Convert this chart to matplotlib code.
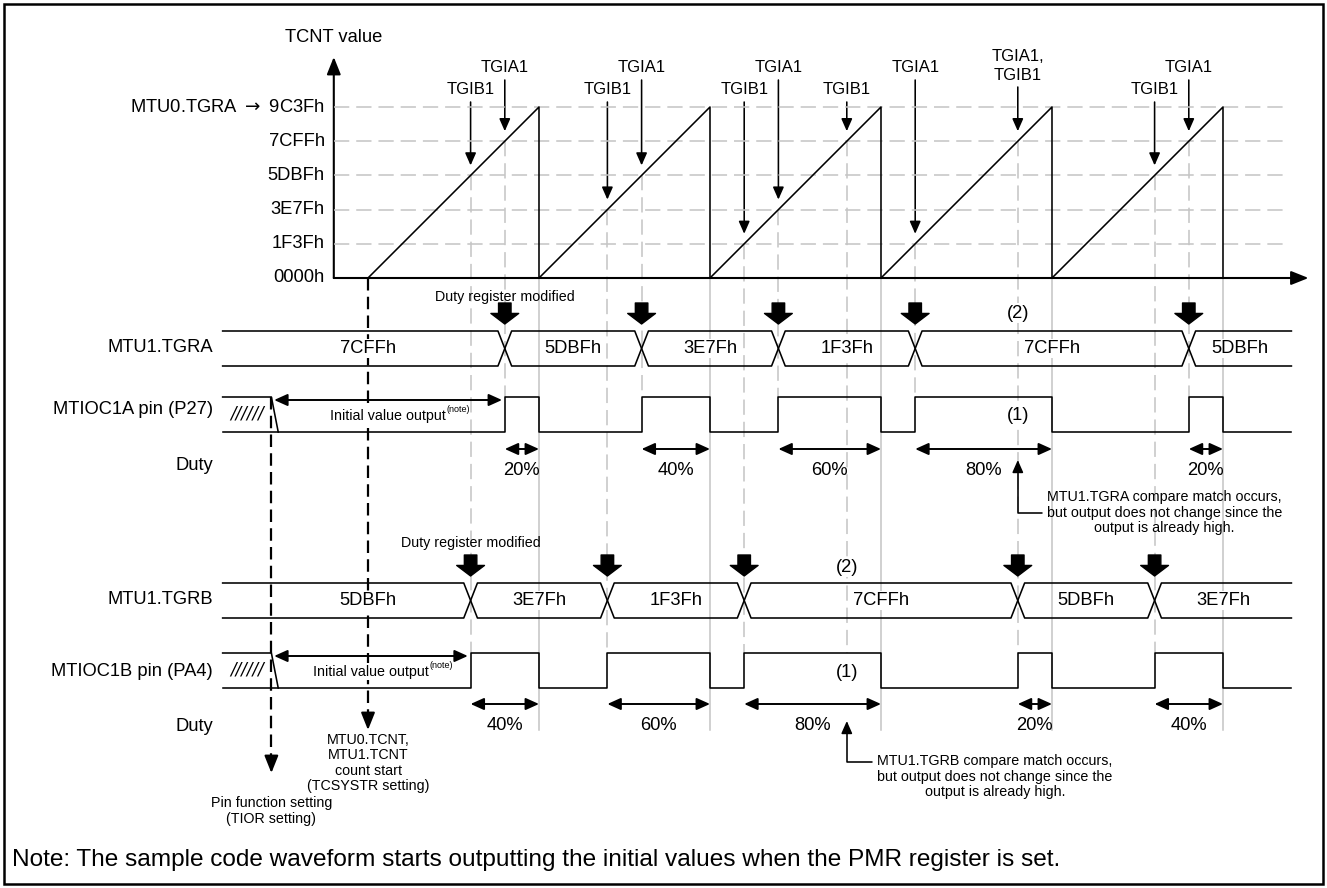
import matplotlib
matplotlib.use("Agg")
import matplotlib.pyplot as plt
from matplotlib.patches import Rectangle

plt.rcParams["font.family"] = ["Liberation Sans", "DejaVu Sans"]
plt.rcParams["lines.scale_dashes"] = False

# ---------------- data ----------------
TGRA0 = 0x9C3F                      # MTU0.TGRA (counter period)
N_PERIODS = 5
tick_values = [0x0000, 0x1F3F, 0x3E7F, 0x5DBF, 0x7CFF, 0x9C3F]
tick_labels = ["0000h", "1F3Fh", "3E7Fh", "5DBFh", "7CFFh", "MTU0.TGRA $\\rightarrow$ 9C3Fh"]

# compare-match events: (period index, compare value)
tgia1_period = [0, 1, 2, 3, 3, 4]
tgia1_value = [0x7CFF, 0x5DBF, 0x3E7F, 0x1F3F, 0x7CFF, 0x7CFF]
tgib1_period = [0, 1, 2, 2, 3, 4]
tgib1_value = [0x5DBF, 0x3E7F, 0x1F3F, 0x7CFF, 0x7CFF, 0x5DBF]

# register contents and the events at which they are rewritten
tgra_labels = ["7CFFh", "5DBFh", "3E7Fh", "1F3Fh", "7CFFh", "5DBFh"]
tgra_write_idx = [0, 1, 2, 3, 5]
tgrb_labels = ["5DBFh", "3E7Fh", "1F3Fh", "7CFFh", "5DBFh", "3E7Fh"]
tgrb_write_idx = [0, 1, 2, 4, 5]

reg_names = ["MTU1.TGRA", "MTU1.TGRB"]
pin_names = ["MTIOC1A pin (P27)", "MTIOC1B pin (PA4)"]
irq_names = ["TGIA1", "TGIB1"]
note_text = "Note: The sample code waveform starts outputting the initial values when the PMR register is set."
nochange_text = ["MTU1.TGRA compare match occurs,\nbut output does not change since the\noutput is already high.",
                 "MTU1.TGRB compare match occurs,\nbut output does not change since the\noutput is already high."]

# ---------------- layout ----------------
W, H = 1327, 888
X0_PX, Y0_PX, PX_PER_PERIOD = 368, 278, 171
PERIOD = TGRA0 + 1
CPP = PERIOD / PX_PER_PERIOD

AXIS_T = -0.2 * PERIOD
XAXIS_END_T = 5.5 * PERIOD
GRID_END_T = 5.36 * PERIOD
ROW_START_T = -0.85 * PERIOD
ROW_END_T = 5.4 * PERIOD
PIN_SET_T = -0.565 * PERIOD
PIN_DIAG_T = -0.525 * PERIOD
XHALF = 0.04 * PERIOD
GUIDE_BOTTOM = 730

rows = [
    dict(bus_top=331, bus_bot=366, hi=397, lo=432, duty_arrow=449, duty_text=470,
         lab_bus=348, lab_pin=409, lab_duty=465, mod_text=297, p2=313, p1=415, tip=460,
         note_off=(21, -38), relpos=(0, 0.5)),
    dict(bus_top=583, bus_bot=618, hi=653, lo=688, duty_arrow=704, duty_text=725,
         lab_bus=600, lab_pin=671, lab_duty=726, mod_text=543, p2=567, p1=672, tip=721,
         note_off=(22, -40), relpos=(0, 0.83)),
]

FS = 13.2
FS_IRQ = 12
FS_S = 10.3
BLACK = "black"
GREY = "#c4c4c4"
LW = 1.15

fig = plt.figure(figsize=(W / 100, H / 100), dpi=100)
ax = fig.add_axes([0, 0, 1, 1], label="rows")
ax.set_axis_off()
ax.set_xlim(-X0_PX * CPP, (W - X0_PX) * CPP)
ax.set_ylim(H, 0)
axc = fig.add_axes([0, 0, 1, 1], label="chart")
axc.set_axis_off()
axc.patch.set_alpha(0)
axc.set_xlim(-X0_PX * CPP, (W - X0_PX) * CPP)
axc.set_ylim(-(H - Y0_PX) * CPP, Y0_PX * CPP)


def to_px(t, v):
    d = axc.transData.transform((t, v))
    return ax.transData.inverted().transform(d)[1]


ARW = dict(arrowstyle="-|>,head_length=0.75,head_width=0.33", mutation_scale=10,
           color=BLACK, lw=LW, shrinkA=0, shrinkB=0)
DARW = dict(arrowstyle="<|-|>,head_length=0.8,head_width=0.36", mutation_scale=10,
            color=BLACK, lw=1.4, shrinkA=0, shrinkB=0)
AXARW = dict(arrowstyle="-|>,head_length=1.05,head_width=0.42", mutation_scale=10,
             color=BLACK, lw=1.5, shrinkA=0, shrinkB=0)
BIG = dict(arrowstyle="simple,head_length=0.38,head_width=1.0,tail_width=0.45",
           mutation_scale=20, color=BLACK, shrinkA=0, shrinkB=0)
WBOX = dict(fc="white", ec="none", pad=1.0)

# ---------------- border ----------------
fig.add_artist(Rectangle((4 / W, 4 / H), (W - 8) / W, (H - 8) / H, transform=fig.transFigure,
                         fill=False, ec=BLACK, lw=1.8))

# ---------------- TCNT chart ----------------
for v in tick_values[1:]:
    axc.plot([AXIS_T, GRID_END_T], [v, v], color=GREY, lw=1.1, ls=(0, (11, 5)), zorder=1)
for v, lbl in zip(tick_values, tick_labels):
    axc.annotate(lbl, xy=(AXIS_T, v), xytext=(-6.5, 0), textcoords="offset points",
                 ha="right", va="center", fontsize=FS)
for k in range(N_PERIODS):
    ts = k * PERIOD
    axc.plot([ts, ts + TGRA0, ts + TGRA0], [0, TGRA0, 0], color=BLACK, lw=LW, zorder=3)
ax.annotate("", xy=(AXIS_T, 57), xytext=(AXIS_T, Y0_PX), arrowprops=AXARW, zorder=4)
ax.annotate("", xy=(XAXIS_END_T, Y0_PX), xytext=(AXIS_T, Y0_PX), arrowprops=AXARW, zorder=4)
ax.text(AXIS_T, 37, "TCNT value", ha="center", va="center", fontsize=FS)

# events
ev = {}
for ch, (pers, vals) in enumerate([(tgia1_period, tgia1_value), (tgib1_period, tgib1_value)]):
    for k, v in zip(pers, vals):
        t = k * PERIOD + v
        ev.setdefault(t, [v, set()])[1].add(ch)
ev_a = [k * PERIOD + v for k, v in zip(tgia1_period, tgia1_value)]
ev_b = [k * PERIOD + v for k, v in zip(tgib1_period, tgib1_value)]

for t, (v, chs) in sorted(ev.items()):
    ycross = to_px(t, v)
    if chs == {0, 1}:
        lbl, ly, tail = irq_names[0] + ",\n" + irq_names[1], 66, 87
    elif chs == {0}:
        lbl, ly, tail = irq_names[0], 67, 80
    else:
        lbl, ly, tail = irq_names[1], 89, 102
    ax.text(t, ly, lbl, ha="center", va="center", fontsize=FS_IRQ, linespacing=1.4)
    ax.annotate("", xy=(t, ycross - 10), xytext=(t, tail), arrowprops=ARW, zorder=4)
    ybot = max(rows[c]["hi"] for c in chs)
    ax.plot([t, t], [ycross, ybot], color=GREY, lw=1.1, ls=(0, (11, 5)), zorder=1)

for k in range(1, N_PERIODS + 1):
    ax.plot([k * PERIOD, k * PERIOD], [Y0_PX, GUIDE_BOTTOM], color=GREY, lw=1.1, zorder=1)

# ---------------- register rows & pins ----------------
for r, (row, events, labels, widx) in enumerate([
        (rows[0], ev_a, tgra_labels, tgra_write_idx),
        (rows[1], ev_b, tgrb_labels, tgrb_write_idx)]):
    top, bot = row["bus_top"], row["bus_bot"]
    trans = [events[i] for i in widx]
    # bus shape
    xa, ya, xb, yb = [ROW_START_T], [top], [ROW_START_T], [bot]
    cur_a, cur_b = top, bot
    for tt in trans:
        xa += [tt - XHALF, tt + XHALF]
        ya += [cur_a, cur_b]
        xb += [tt - XHALF, tt + XHALF]
        yb += [cur_b, cur_a]
        cur_a, cur_b = cur_b, cur_a
    xa.append(ROW_END_T); ya.append(cur_a)
    xb.append(ROW_END_T); yb.append(cur_b)
    ax.plot(xa, ya, color=BLACK, lw=LW, zorder=3)
    ax.plot(xb, yb, color=BLACK, lw=LW, zorder=3)
    bounds = [0.0] + trans + [ROW_END_T]
    for i, lbl in enumerate(labels):
        xc = 0.0 if i == 0 else 0.5 * (bounds[i] + bounds[i + 1])
        ax.text(xc, 0.5 * (top + bot), lbl, ha="center", va="center", fontsize=FS,
                bbox=WBOX, zorder=5)
    for tt in trans:
        ax.annotate("", xy=(tt, top - 7), xytext=(tt, top - 28), arrowprops=BIG, zorder=4)
    ax.text(trans[0], row["mod_text"], "Duty register modified", ha="center", va="center",
            fontsize=FS_S)
    fig.text(213 / W, 1 - row["lab_bus"] / H, reg_names[r], ha="right", va="center", fontsize=FS)
    fig.text(213 / W, 1 - row["lab_pin"] / H, pin_names[r], ha="right", va="center", fontsize=FS)
    fig.text(213 / W, 1 - row["lab_duty"] / H, "Duty", ha="right", va="center", fontsize=FS)

    # pin waveform
    hi, lo = row["hi"], row["lo"]
    highs, nochange = [], []
    for tt in events:
        end = (int(tt // PERIOD) + 1) * PERIOD
        if highs and highs[-1][1] == end:
            nochange.append(tt)
            continue
        highs.append((tt, end))
    ax.plot([ROW_START_T, PIN_SET_T, PIN_DIAG_T], [hi, hi, lo], color=BLACK, lw=LW, zorder=3)
    px, py = [ROW_START_T], [lo]
    for t0, t1 in highs:
        px += [t0, t0, t1, t1]
        py += [lo, hi, hi, lo]
    px.append(ROW_END_T); py.append(lo)
    ax.plot(px, py, color=BLACK, lw=LW, zorder=3)
    ax.text(0.5 * (ROW_START_T + PIN_SET_T), 0.5 * (hi + lo) - 1, "//////", ha="center",
            va="center", fontsize=12, family="DejaVu Sans", fontstyle="italic")
    # initial value output
    ax.annotate("", xy=(highs[0][0], hi + 3), xytext=(PIN_SET_T, hi + 3),
                arrowprops=dict(DARW, shrinkA=2, shrinkB=2), zorder=4)
    tx = ax.text(0.5 * (PIN_SET_T + highs[0][0]), 0.5 * (hi + lo) + 1, "Initial value output",
                 ha="center", va="center", fontsize=FS_S, bbox=WBOX, zorder=5)
    ax.annotate("(note)", xy=(1.0, 0.92), xycoords=tx, xytext=(0.5, 0), textcoords="offset points",
                ha="left", va="center", fontsize=6.5, zorder=5)
    # duty arrows
    for t0, t1 in highs:
        ax.annotate("", xy=(t1, row["duty_arrow"]), xytext=(t0, row["duty_arrow"]),
                    arrowprops=DARW, zorder=4)
        duty = round((t1 - t0) / PERIOD * 100)
        ax.text(0.5 * (t0 + t1), row["duty_text"], f"{duty}%", ha="center", va="center",
                fontsize=FS)
    # no-change compare match annotations
    for tt in nochange:
        ax.text(tt, row["p2"], "(2)", ha="center", va="center", fontsize=FS, bbox=WBOX, zorder=5)
        ax.text(tt, row["p1"], "(1)", ha="center", va="center", fontsize=FS, bbox=WBOX, zorder=5)
        ax.annotate(nochange_text[r], xy=(tt, row["tip"]), xytext=row["note_off"],
                    textcoords="offset points", ha="left", va="center", multialignment="center",
                    fontsize=FS_S, linespacing=1.12,
                    arrowprops=dict(arrowstyle="-|>,head_length=0.75,head_width=0.33",
                                    mutation_scale=10, color=BLACK, lw=LW,
                                    connectionstyle="angle,angleA=0,angleB=90,rad=0",
                                    relpos=row["relpos"], shrinkA=1.5, shrinkB=0))

# ---------------- count start / pin function setting ----------------
ax.plot([0, 0], [Y0_PX, GUIDE_BOTTOM - 12], color=BLACK, lw=1.6, ls=(0, (9, 4.5)), zorder=2)
ax.annotate("", xy=(0, GUIDE_BOTTOM), xytext=(0, GUIDE_BOTTOM - 14), arrowprops=AXARW, zorder=4)
ax.text(0, 763, "MTU0.TCNT,\nMTU1.TCNT\ncount start\n(TCSYSTR setting)", ha="center",
        va="center", fontsize=FS_S, linespacing=1.15)
ax.plot([PIN_SET_T, PIN_SET_T], [rows[0]["hi"], 773 - 12], color=BLACK, lw=1.6,
        ls=(0, (9, 4.5)), zorder=2)
ax.annotate("", xy=(PIN_SET_T, 773), xytext=(PIN_SET_T, 773 - 14), arrowprops=AXARW, zorder=4)
ax.text(PIN_SET_T, 811, "Pin function setting\n(TIOR setting)", ha="center", va="center",
        fontsize=FS_S, linespacing=1.15)

fig.text(12 / W, 1 - 860 / H, note_text, ha="left", va="center", fontsize=17.6)

fig.savefig("out.png", dpi=100)
